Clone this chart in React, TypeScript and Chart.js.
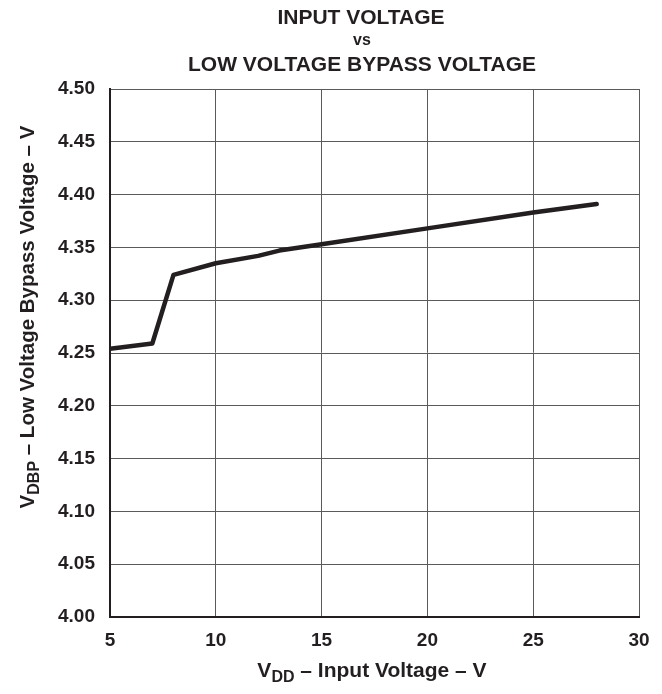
import React, { useEffect, useRef } from "react";
import { Chart, registerables } from "chart.js";

Chart.register(...registerables);

const inputVoltage = [5, 7, 8, 10, 12, 13, 15, 20, 25, 28];
const bypassVoltage = [4.254, 4.259, 4.324, 4.335, 4.342, 4.347, 4.353, 4.368, 4.383, 4.391];
const titleLines = ["INPUT VOLTAGE", "vs", "LOW VOLTAGE BYPASS VOLTAGE"];
const xTitle = [
  { t: "V", sub: false },
  { t: "DD", sub: true },
  { t: " \u2013 Input Voltage \u2013 V", sub: false },
];
const yTitle = [
  { t: "V", sub: false },
  { t: "DBP", sub: true },
  { t: " \u2013 Low Voltage Bypass Voltage \u2013 V", sub: false },
];

const FONT = "Liberation Sans, Arial, Helvetica, sans-serif";
const INK = "#231f20";

function drawRich(ctx: CanvasRenderingContext2D, segs: { t: string; sub: boolean }[], size: number) {
  const main = `bold ${size}px ${FONT}`;
  const small = `bold ${Math.round(size * 0.78)}px ${FONT}`;
  let total = 0;
  for (const s of segs) {
    ctx.font = s.sub ? small : main;
    total += ctx.measureText(s.t).width;
  }
  let x = -total / 2;
  ctx.textAlign = "left";
  ctx.textBaseline = "alphabetic";
  for (const s of segs) {
    ctx.font = s.sub ? small : main;
    ctx.fillText(s.t, x, s.sub ? size * 0.25 : 0);
    x += ctx.measureText(s.t).width;
  }
}

const textPlugin = {
  id: "customText",
  afterDraw(chart: any) {
    const ctx = chart.ctx as CanvasRenderingContext2D;
    ctx.save();
    ctx.fillStyle = INK;
    ctx.textAlign = "center";
    ctx.textBaseline = "alphabetic";
    ctx.font = `bold 21px ${FONT}`;
    ctx.fillText(titleLines[0], 361, 24);
    ctx.font = `bold 16px ${FONT}`;
    ctx.fillText(titleLines[1], 362, 45);
    ctx.font = `bold 21px ${FONT}`;
    ctx.fillText(titleLines[2], 362, 71);

    ctx.save();
    ctx.translate(372, 677);
    drawRich(ctx, xTitle, 21);
    ctx.restore();

    ctx.save();
    ctx.translate(34, 317);
    ctx.rotate(-Math.PI / 2);
    drawRich(ctx, yTitle, 20.5);
    ctx.restore();
    ctx.restore();
  },
};

export default function App() {
  const ref = useRef<HTMLCanvasElement>(null);
  useEffect(() => {
    if (!ref.current) return;
    const chart = new Chart(ref.current, {
      type: "line",
      data: {
        datasets: [
          {
            data: inputVoltage.map((x, i) => ({ x, y: bypassVoltage[i] })),
            borderColor: INK,
            borderWidth: 4.5,
            pointRadius: 0,
            tension: 0,
            fill: false,
            borderCapStyle: "round",
            borderJoinStyle: "round",
          },
        ],
      },
      options: {
        responsive: false,
        animation: false,
        layout: { padding: { left: 0, top: 89, right: 23, bottom: 0 } },
        plugins: { legend: { display: false }, tooltip: { enabled: false }, title: { display: false } },
        scales: {
          x: {
            type: "linear",
            min: 5,
            max: 30,
            afterFit: (s: any) => {
              s.height = 77;
            },
            ticks: {
              stepSize: 5,
              padding: 12,
              color: INK,
              font: { family: FONT, size: 19, weight: "bold" },
              maxRotation: 0,
            },
            grid: { color: "#5a5a5a", lineWidth: 1, drawTicks: false },
            border: { color: INK, width: 2 },
          },
          y: {
            type: "linear",
            min: 4.0,
            max: 4.5,
            afterFit: (s: any) => {
              s.width = 110;
            },
            ticks: {
              stepSize: 0.05,
              padding: 15,
              color: INK,
              font: { family: FONT, size: 19, weight: "bold" },
              callback: (v: any) => Number(v).toFixed(2),
            },
            grid: { color: "#5a5a5a", lineWidth: 1, drawTicks: false },
            border: { color: INK, width: 2 },
          },
        },
      },
      plugins: [textPlugin],
    } as any);
    return () => chart.destroy();
  }, []);
  return (
    <div style={{ position: "fixed", left: 0, top: 0, width: 662, height: 694, background: "#fff" }}>
      <canvas ref={ref} width={662} height={694} style={{ width: 662, height: 694 }} />
    </div>
  );
}
